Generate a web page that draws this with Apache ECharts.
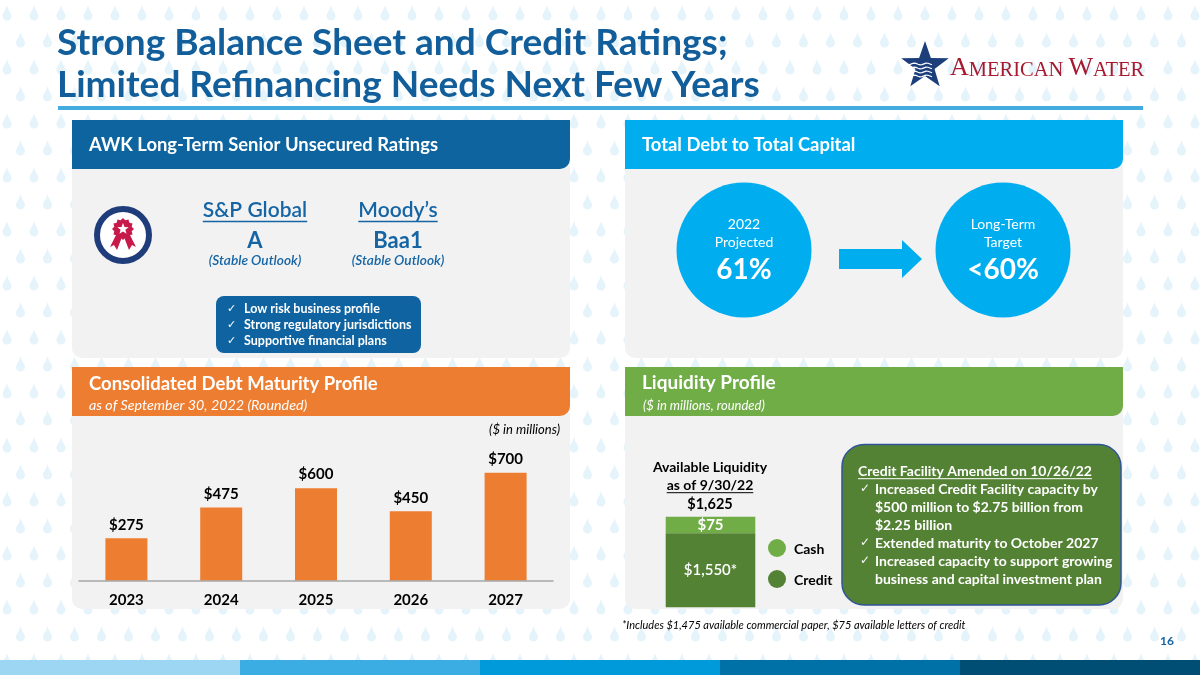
<!DOCTYPE html>
<html><head><meta charset="utf-8">
<script src="https://cdn.jsdelivr.net/npm/echarts@6/dist/echarts.min.js"></script>
<style>html,body{margin:0;padding:0;background:#fff;}#c{width:1200px;height:675px;}</style>
</head><body><div id="c"></div>
<script>
// ---------- data ----------
const titleLines = ['Strong Balance Sheet and Credit Ratings;', 'Limited Refinancing Needs Next Few Years'];
const ratingAgencies = ['S&P Global', 'Moody\u2019s'];
const ratingValues = ['A', 'Baa1'];
const ratingOutlooks = ['(Stable Outlook)', '(Stable Outlook)'];
const ratingPoints = ['Low risk business profile', 'Strong regulatory jurisdictions', 'Supportive financial plans'];
const capitalTop = ['2022', 'Long-Term'];
const capitalMid = ['Projected', 'Target'];
const capitalValues = ['61%', '<60%'];
const maturityYears = ['2023', '2024', '2025', '2026', '2027'];
const maturityValues = [275, 475, 600, 450, 700];
const liquidityCash = 75;
const liquidityCredit = 1550;
const creditTitle = 'Credit Facility Amended on 10/26/22';
const creditLines = [
  ['\u2713', 'Increased Credit Facility capacity by'],
  ['', '$500 million to $2.75 billion from'],
  ['', '$2.25 billion'],
  ['\u2713', 'Extended maturity to October 2027'],
  ['\u2713', 'Increased capacity to support growing'],
  ['', 'business and capital investment plan']
];
const footnote = '*Includes $1,475 available commercial paper, $75 available letters of credit';
const pageNumber = '16';

// ---------- background drops ----------
(function(){
  const cv = document.createElement('canvas'); cv.width = 27; cv.height = 54;
  const g = cv.getContext('2d'); g.fillStyle = '#e5f3fb';
  function drop(cx, cy){ g.beginPath(); g.moveTo(cx, cy-9);
    g.bezierCurveTo(cx+1, cy-4, cx+4.5, cy-1, cx+4.5, cy+2);
    g.arc(cx, cy+2, 4.5, 0, Math.PI);
    g.bezierCurveTo(cx-4.5, cy-1, cx-1, cy-4, cx, cy-9); g.fill(); }
  drop(7, 14); drop(20.5, 41);
  document.body.style.backgroundImage = 'url(' + cv.toDataURL() + ')';
})();

const F = 'Lato, "Open Sans", sans-serif';
const mctx = document.createElement('canvas').getContext('2d');
function tw(font, t){ mctx.font = font; return mctx.measureText(t).width; }
function fnt(o){ return (o.i ? 'italic ' : '') + (o.w || 'bold') + ' ' + (o.s || 14) + 'px ' + (o.f || F); }
function T(text, x, y, o){ o = o || {}; const a = o.a || 'left';
  return {type:'text', x:x, y:y, z:10, style:{text:text, fill:o.c || '#fff', font:fnt(o),
    align:a, textAlign:a, verticalAlign:'middle', textVerticalAlign:'middle'}}; }
function U(text, x, y, o){ const w = tw(fnt(o), text); const a = o.a || 'left';
  const x1 = a === 'center' ? x - w/2 : x; const yy = y + (o.s || 14) * 0.55;
  return {type:'line', z:10, shape:{x1:x1, y1:yy, x2:x1 + w, y2:yy}, style:{stroke:o.c || '#fff', lineWidth:Math.max(1, (o.s||14)/14)}}; }
function R(x, y, w, h, fill, r, extra){ return Object.assign({type:'rect', z:1, shape:{x:x, y:y, width:w, height:h, r:r || 0}, style:{fill:fill}}, extra || {}); }

const els = [];
// title
const titleColor = '#125e9a';
els.push(T(titleLines[0], 57, 43, {s:37, c:titleColor}));
els.push(T(titleLines[1], 57, 85, {s:37, c:titleColor}));
els.push(R(58, 106, 1085, 4, '#43ade0'));
// logo
(function(){
  const cx = 925, cy = 66, pts = [];
  for (let i = 0; i < 10; i++){ const ang = -Math.PI/2 + i*Math.PI/5; const rr = i%2 ? 10 : 25;
    pts.push([cx + rr*Math.cos(ang), cy + rr*Math.sin(ang)]); }
  els.push({type:'polygon', z:5, shape:{points:pts}, style:{fill:'#1c3f7c'}});
  for (let k = 0; k < 4; k++){ const yy = cy - 2 + k*4; const p = [];
    for (let xx = 908; xx <= 932; xx += 2) p.push([xx, yy + Math.sin(xx/2)*0.9]);
    els.push({type:'polyline', z:6, shape:{points:p}, style:{stroke:'#fff', lineWidth:1.2, fill:null}}); }
  els.push({type:'text', x:950, y:68, z:10, style:{text:'{a|A}{b|MERICAN }{a|W}{b|ATER}',
    verticalAlign:'middle', textVerticalAlign:'middle',
    rich:{a:{fontSize:26, fontFamily:'"Liberation Serif", serif', fill:'#a6192e', color:'#a6192e', verticalAlign:'bottom'},
          b:{fontSize:20.5, fontFamily:'"Liberation Serif", serif', fill:'#a6192e', color:'#a6192e', verticalAlign:'bottom'}}}});
})();

// panels
function panel(x, y, w, hh, bh, color){
  els.push(R(x, y + hh - 12, w, bh + 12, '#f2f2f2', 10));
  els.push(R(x, y, w, hh, color, [0, 0, 10, 0]));
}
panel(72, 120, 498, 49, 189, '#0d649f');
panel(625, 120, 498, 49, 189, '#00aeef');
panel(72, 367, 498, 49, 193, '#ed7d31');
panel(625, 367, 498, 49, 193, '#70ad47');

// panel 1: ratings
els.push(T('AWK Long-Term Senior Unsecured Ratings', 89, 145, {s:18.4}));
els.push({type:'circle', z:3, shape:{cx:123, cy:235, r:26}, style:{fill:'#fff', stroke:'#1f3d7a', lineWidth:6}});
(function(){
  const cx = 123, cy = 229, pts = [];
  for (let i = 0; i < 24; i++){ const ang = i*Math.PI/12; const rr = i%2 ? 9 : 11;
    pts.push([cx + rr*Math.cos(ang), cy + rr*Math.sin(ang)]); }
  els.push({type:'polygon', z:5, shape:{points:[[cx-6,cy+4],[cx-13,cy+18],[cx-9,cy+16],[cx-6,cy+21],[cx-1,cy+8]]}, style:{fill:'#c8194b'}});
  els.push({type:'polygon', z:5, shape:{points:[[cx+6,cy+4],[cx+13,cy+18],[cx+9,cy+16],[cx+6,cy+21],[cx+1,cy+8]]}, style:{fill:'#c8194b'}});
  els.push({type:'polygon', z:6, shape:{points:pts}, style:{fill:'#c8194b'}});
  const sp = [];
  for (let i = 0; i < 10; i++){ const ang = -Math.PI/2 + i*Math.PI/5; const rr = i%2 ? 2.5 : 6;
    sp.push([cx + rr*Math.cos(ang), cy + rr*Math.sin(ang)]); }
  els.push({type:'polygon', z:7, shape:{points:sp}, style:{fill:'#fff'}});
})();
const ratingX = [255, 398], rc = '#1565a5';
ratingAgencies.forEach(function(n, i){
  const o = {s:21, c:rc, w:'600', a:'center'};
  els.push(T(n, ratingX[i], 210, o)); els.push(U(n, ratingX[i], 210, o));
  els.push(T(ratingValues[i], ratingX[i], 241, {s:22, c:rc, a:'center'}));
  els.push(T(ratingOutlooks[i], ratingX[i], 261, {s:13.7, c:rc, w:'600', i:true, a:'center'}));
});
els.push(R(216, 296, 205, 57, '#0e63a0', 8, {z:2}));
ratingPoints.forEach(function(p, i){
  els.push(T('\u2713', 227, 309 + i*16, {s:11, w:'normal', f:'"DejaVu Sans", sans-serif'}));
  els.push(T(p, 244, 309 + i*16, {s:12.5}));
});

// panel 2: debt to capital
els.push(T('Total Debt to Total Capital', 642, 145, {s:18.4}));
const capX = [744, 1003];
capX.forEach(function(cx, i){
  els.push({type:'circle', z:3, shape:{cx:cx, cy:250, r:67.5}, style:{fill:'#00aeef'}});
  els.push(T(capitalTop[i], cx, 224, {s:14, w:'normal', a:'center'}));
  els.push(T(capitalMid[i], cx, 242, {s:14, w:'normal', a:'center'}));
  els.push(T(capitalValues[i], cx, 270, {s:28, a:'center'}));
});
els.push({type:'polygon', z:3, shape:{points:[[839,249],[902,249],[902,240],[922,259],[902,278],[902,269],[839,269]]}, style:{fill:'#00aeef'}});

// panel 3: maturity
els.push(T('Consolidated Debt Maturity Profile', 89, 384, {s:18.5}));
els.push(T('as of September 30, 2022 (Rounded)', 89, 405, {s:14.3, w:'normal', i:true}));
els.push(T('($ in millions)', 560, 430, {s:13, w:'normal', i:true, c:'#000', a:'right'}));

// panel 4: liquidity
els.push(T('Liquidity Profile', 642, 383, {s:19}));
els.push(T('($ in millions, rounded)', 643, 406, {s:13, w:'normal', i:true}));
const liqTotal = liquidityCash + liquidityCredit;
els.push(T('Available Liquidity', 710, 467, {s:14, c:'#000', a:'center'}));
els.push(T('as of 9/30/22', 710, 485, {s:14, c:'#000', a:'center'}));
els.push(U('as of 9/30/22', 710, 485, {s:14, c:'#000', a:'center'}));
els.push(T('$' + liqTotal.toLocaleString('en-US'), 710, 504, {s:14.5, c:'#000', a:'center'}));
els.push({type:'circle', z:3, shape:{cx:777, cy:548, r:9}, style:{fill:'#70ad47'}});
els.push({type:'circle', z:3, shape:{cx:777, cy:579, r:9}, style:{fill:'#548235'}});
els.push(T('Cash', 794, 549, {s:14, c:'#000'}));
els.push(T('Credit', 794, 580, {s:14, c:'#000'}));
els.push(R(842, 444.5, 279, 160.5, '#548235', 22, {z:2, style:{fill:'#548235', stroke:'#2f5597', lineWidth:1.5}}));
els.push(T(creditTitle, 858, 471, {s:14}));
els.push(U(creditTitle, 858, 471, {s:14}));
creditLines.forEach(function(l, i){
  const y = 489 + i*18;
  if (l[0]) els.push(T(l[0], 860, y, {s:12, w:'normal', f:'"DejaVu Sans", sans-serif'}));
  els.push(T(l[1], 875, y, {s:14}));
});

// footer
els.push(T(footnote, 622, 625, {s:11, w:'normal', i:true, c:'#000'}));
els.push(T(pageNumber, 1167, 641, {s:12, c:'#1565a5', a:'center'}));
['#9dd6f2', '#3bade2', '#0099d9', '#0071a6', '#004e73'].forEach(function(c, i){ els.push(R(i*240, 660, 240, 15, c)); });

const chart = echarts.init(document.getElementById('c'));
const maxMat = Math.max.apply(null, maturityValues);
chart.setOption({
  animation: false,
  backgroundColor: 'transparent',
  graphic: {elements: els},
  grid: [
    {left:79, top:472.7, width:474, height:108},
    {left:665.7, top:516.7, width:89.6, height:16.6},
    {left:665.7, top:533.3, width:89.6, height:74}
  ],
  xAxis: [
    {gridIndex:0, type:'category', data:maturityYears, z:20, axisLine:{lineStyle:{color:'#a6a6a6', width:1.5}}, axisTick:{show:false},
     axisLabel:{color:'#000', fontWeight:'bold', fontSize:15, fontFamily:F, margin:12}},
    {gridIndex:1, type:'category', data:['Cash'], show:false},
    {gridIndex:2, type:'category', data:['Credit'], show:false}
  ],
  yAxis: [
    {gridIndex:0, type:'value', min:0, max:maxMat, show:false},
    {gridIndex:1, type:'value', min:0, max:liquidityCash, show:false},
    {gridIndex:2, type:'value', min:0, max:liquidityCredit, show:false}
  ],
  series: [
    {type:'bar', xAxisIndex:0, yAxisIndex:0, data:maturityValues, barWidth:42, z:5, itemStyle:{color:'#ed7d31'},
     label:{show:true, position:'top', distance:6, color:'#000', fontWeight:'bold', fontSize:15, fontFamily:F,
       formatter:function(p){ return '$' + p.value; }}},
    {type:'bar', xAxisIndex:1, yAxisIndex:1, data:[liquidityCash], barWidth:'100%', z:5, itemStyle:{color:'#70ad47'},
     label:{show:true, position:'inside', color:'#fff', fontWeight:'bold', fontSize:15, fontFamily:F,
       formatter:function(p){ return '$' + p.value; }}},
    {type:'bar', xAxisIndex:2, yAxisIndex:2, data:[liquidityCredit], barWidth:'100%', z:5, itemStyle:{color:'#548235'},
     label:{show:true, position:'inside', color:'#fff', fontWeight:'600', fontSize:15, fontFamily:F,
       formatter:function(p){ return '$' + p.value.toLocaleString('en-US') + '*'; }}}
  ]
});
</script></body></html>
